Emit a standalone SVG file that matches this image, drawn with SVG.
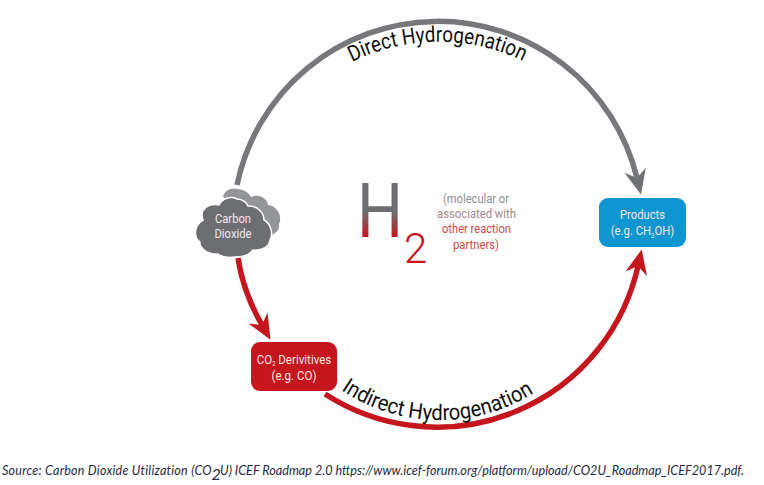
<svg xmlns="http://www.w3.org/2000/svg" width="764" height="485" viewBox="0 0 764 485">
<style>
.lbl{font-family:Roboto,"Liberation Sans",sans-serif;font-size:13px;text-anchor:middle;fill:#f1e6e6}
.arc{font-family:Roboto,"Liberation Sans",sans-serif;font-size:22px;fill:#111}
.gray{fill:none;stroke:#77787b;stroke-width:5.5}
.red{fill:none;stroke:#c4161c;stroke-width:5.5}
.note{font-family:Roboto,"Liberation Sans",sans-serif;font-size:13.5px;text-anchor:middle}
</style>
<defs>
<linearGradient id="h2g" gradientUnits="userSpaceOnUse" x1="0" y1="-25" x2="0" y2="0">
<stop offset="0" stop-color="#6d6e71"/><stop offset="1" stop-color="#c4161c"/>
</linearGradient>
<marker id="ag" markerUnits="userSpaceOnUse" markerWidth="26" markerHeight="26" refX="8" refY="13" orient="auto">
<path d="M8 13L0 2L25 13L0 24Z" fill="#6f7074"/>
</marker>
<marker id="ar" markerUnits="userSpaceOnUse" markerWidth="26" markerHeight="26" refX="8" refY="13" orient="auto">
<path d="M8 13L0 2L25 13L0 24Z" fill="#c4161c"/>
</marker>
<path id="pd" d="M352 62A195 195 0 0 1 527 63"/>
<path id="pi" d="M341 390A177 177 0 0 0 537 391"/>
</defs>
<rect width="764" height="485" fill="#fff"/>
<g id="connectors">
<path class="gray" d="M237 185A205 205 0 0 1 637 178" marker-end="url(#ag)"/>
<path class="red" d="M238 258Q243 292 262 325" marker-end="url(#ar)"/>
<path class="red" d="M325 394A206 206 0 0 0 638 266" marker-end="url(#ar)"/>
</g>
<g id="label-direct"><text class="arc"><textPath href="#pd" textLength="177" lengthAdjust="spacingAndGlyphs">Direct Hydrogenation</textPath></text></g>
<g id="label-indirect"><text class="arc"><textPath href="#pi" textLength="204" lengthAdjust="spacingAndGlyphs">Indirect Hydrogenation</textPath></text></g>
<g id="carbon-dioxide">
<path d="M223 197C224 190 232 187 238 189C245 190 249 193 251 197C259 193 268 199 268 205C277 206 283 216 279 224C280 230 276 233 272 235L262 215Z" fill="#939598"/>
<path d="M235 257C228 258 222 257 218 254C208 255 199 248 200 242C194 238 193 226 203 220C199 210 208 203 219 205C222 198 231 196 237 199C243 199 247 203 248 206C257 205 264 213 264 220C270 223 274 233 270 240C269 247 262 251 253 250C249 256 241 257 235 257Z" fill="#6d6e71" stroke="#fff" stroke-width="1.5"/>
<text class="lbl" x="233" y="223" textLength="36" lengthAdjust="spacingAndGlyphs">Carbon</text>
<text class="lbl" x="233" y="238" textLength="37" lengthAdjust="spacingAndGlyphs">Dioxide</text>
</g>
<g id="co2-derivatives">
<rect x="251" y="342" width="86" height="49" rx="9" fill="#c4161c"/>
<text class="lbl" transform="translate(294 364) scale(.89 1)">CO<tspan font-size="6.500" dy="1.500">2</tspan><tspan dy="-1.500"> Derivitives</tspan></text>
<text class="lbl" x="294" y="380" textLength="45" lengthAdjust="spacingAndGlyphs">(e.g. CO)</text>
</g>
<g id="products">
<rect x="599" y="198" width="87" height="49" rx="9" fill="#0f95cf"/>
<text class="lbl" x="642.5" y="219" textLength="45" lengthAdjust="spacingAndGlyphs">Products</text>
<text class="lbl" transform="translate(642.5 235) scale(.87 1)">(e.g. CH<tspan font-size="7" dy="3">3</tspan><tspan dy="-3">OH)</tspan></text>
</g>
<g id="h2">
<text transform="translate(357 237) scale(.85 1)" font-family="Roboto,'Liberation Sans',sans-serif" font-size="76" fill="url(#h2g)">H</text>
<text x="404" y="263" font-family="Roboto,'Liberation Sans',sans-serif" font-weight="300" font-size="42" fill="#c4161c">2</text>
<text class="note" x="476" y="203" style="fill:#8f8f91" textLength="66" lengthAdjust="spacingAndGlyphs">(molecular or</text>
<text class="note" x="476.500" y="218" style="fill:#a08a8a" textLength="79" lengthAdjust="spacingAndGlyphs">associated with</text>
<text class="note" x="476.500" y="233" style="fill:#cf4a4a" textLength="69" lengthAdjust="spacingAndGlyphs">other reaction</text>
<text class="note" x="476" y="249" style="fill:#cf4a4a" textLength="46" lengthAdjust="spacingAndGlyphs">partners)</text>
</g>
<text y="475" font-family="Lato,'Noto Sans',sans-serif" font-style="italic" font-size="12.5" fill="#1f2a44"><tspan x="2" letter-spacing=".25">Source: Carbon Dioxide Utilization (CO</tspan><tspan x="211.500" y="480" font-size="16">2</tspan><tspan x="220" y="475" textLength="524" lengthAdjust="spacingAndGlyphs">U) ICEF Roadmap 2.0 https://www.icef-forum.org/platform/upload/CO2U_Roadmap_ICEF2017.pdf.</tspan></text>
</svg>
